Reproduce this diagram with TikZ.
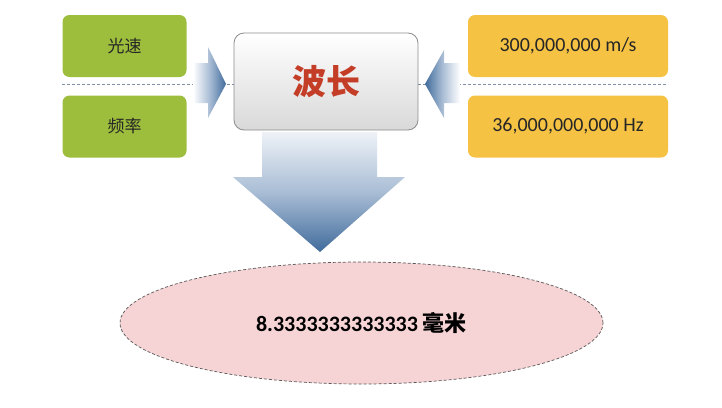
\documentclass[tikz,border=0pt]{standalone}
\usepackage{fontspec}
\setmainfont{Carlito}
\newfontfamily\cjk{Noto Sans CJK SC}
\usetikzlibrary{shapes.geometric}
\definecolor{boxgreen}{HTML}{9DBD3C}
\definecolor{boxorange}{HTML}{F6C244}
\definecolor{boxtext}{HTML}{262626}
\definecolor{titlered}{HTML}{C43E27}
\definecolor{arrowblue}{HTML}{416C9C}
\definecolor{arrowmid}{HTML}{A9BDD5}
\definecolor{arrowlight}{HTML}{EEF2F7}
\definecolor{pinkfill}{HTML}{F6D3D5}
\definecolor{guide}{HTML}{7F8FA6}
\tikzset{
  inbox/.style={rounded corners=7pt, minimum width=124pt, minimum height=62pt, inner sep=0pt, text=boxtext},
  greenbox/.style={inbox, fill=boxgreen, font=\cjk\fontsize{17}{20}\selectfont},
  orangebox/.style={inbox, fill=boxorange, minimum width=200pt, font=\fontsize{20}{24}\selectfont},
  centerbox/.style={rounded corners=10pt, minimum width=184pt, minimum height=97pt, inner sep=0pt,
     draw=black!45, line width=0.8pt, top color=white, bottom color=black!15,
     text=titlered, font=\cjk\bfseries\fontsize{34}{40}\selectfont},
  guideline/.style={guide, densely dashed, line width=0.6pt},
  result/.style={ellipse, minimum width=483pt, minimum height=122pt, inner sep=0pt,
     fill=pinkfill, draw=black!65, densely dashed, line width=0.7pt,
     font=\bfseries\fontsize{22}{26}\selectfont}
}
\begin{document}
\begin{tikzpicture}[x=1pt,y=-1pt]
\useasboundingbox[fill=white] (0,0) rectangle (722,407);

% guide lines
\draw[guideline] (62,84) -- (234,84);
\draw[guideline] (418,84) -- (668,84);

% side arrows
\shade[left color=white, right color=arrowblue, middle color=arrowmid]
  (193,63) -- (208,63) -- (208,47) -- (226,84) -- (208,118) -- (208,103) -- (193,103) -- cycle;
\shade[left color=arrowblue, right color=white, middle color=arrowmid]
  (460,63) -- (444,63) -- (444,50) -- (425,84) -- (444,118) -- (444,103) -- (460,103) -- cycle;

% boxes
\node[greenbox] (speed) at (124.5,46) {光速};
\node[greenbox] (freq) at (124.5,126.5) {频率};
\node[orangebox] (speedval) at (568,46) {300,000,000 m/s};
\node[orangebox] (freqval) at (568,126.5) {36,000,000,000 Hz};
\node[centerbox] (wave) at (326,81.5) {波长};

% down arrow
\shade[top color=arrowlight, bottom color=arrowblue, middle color=arrowmid]
  (262,132) -- (377,132) -- (377,177) -- (405,177) -- (320,252) -- (233,177) -- (262,177) -- cycle;

% result
\node[result] (res) at (361.5,323) {8.3333333333333 {\cjk\bfseries 毫米}};
\end{tikzpicture}
\end{document}
